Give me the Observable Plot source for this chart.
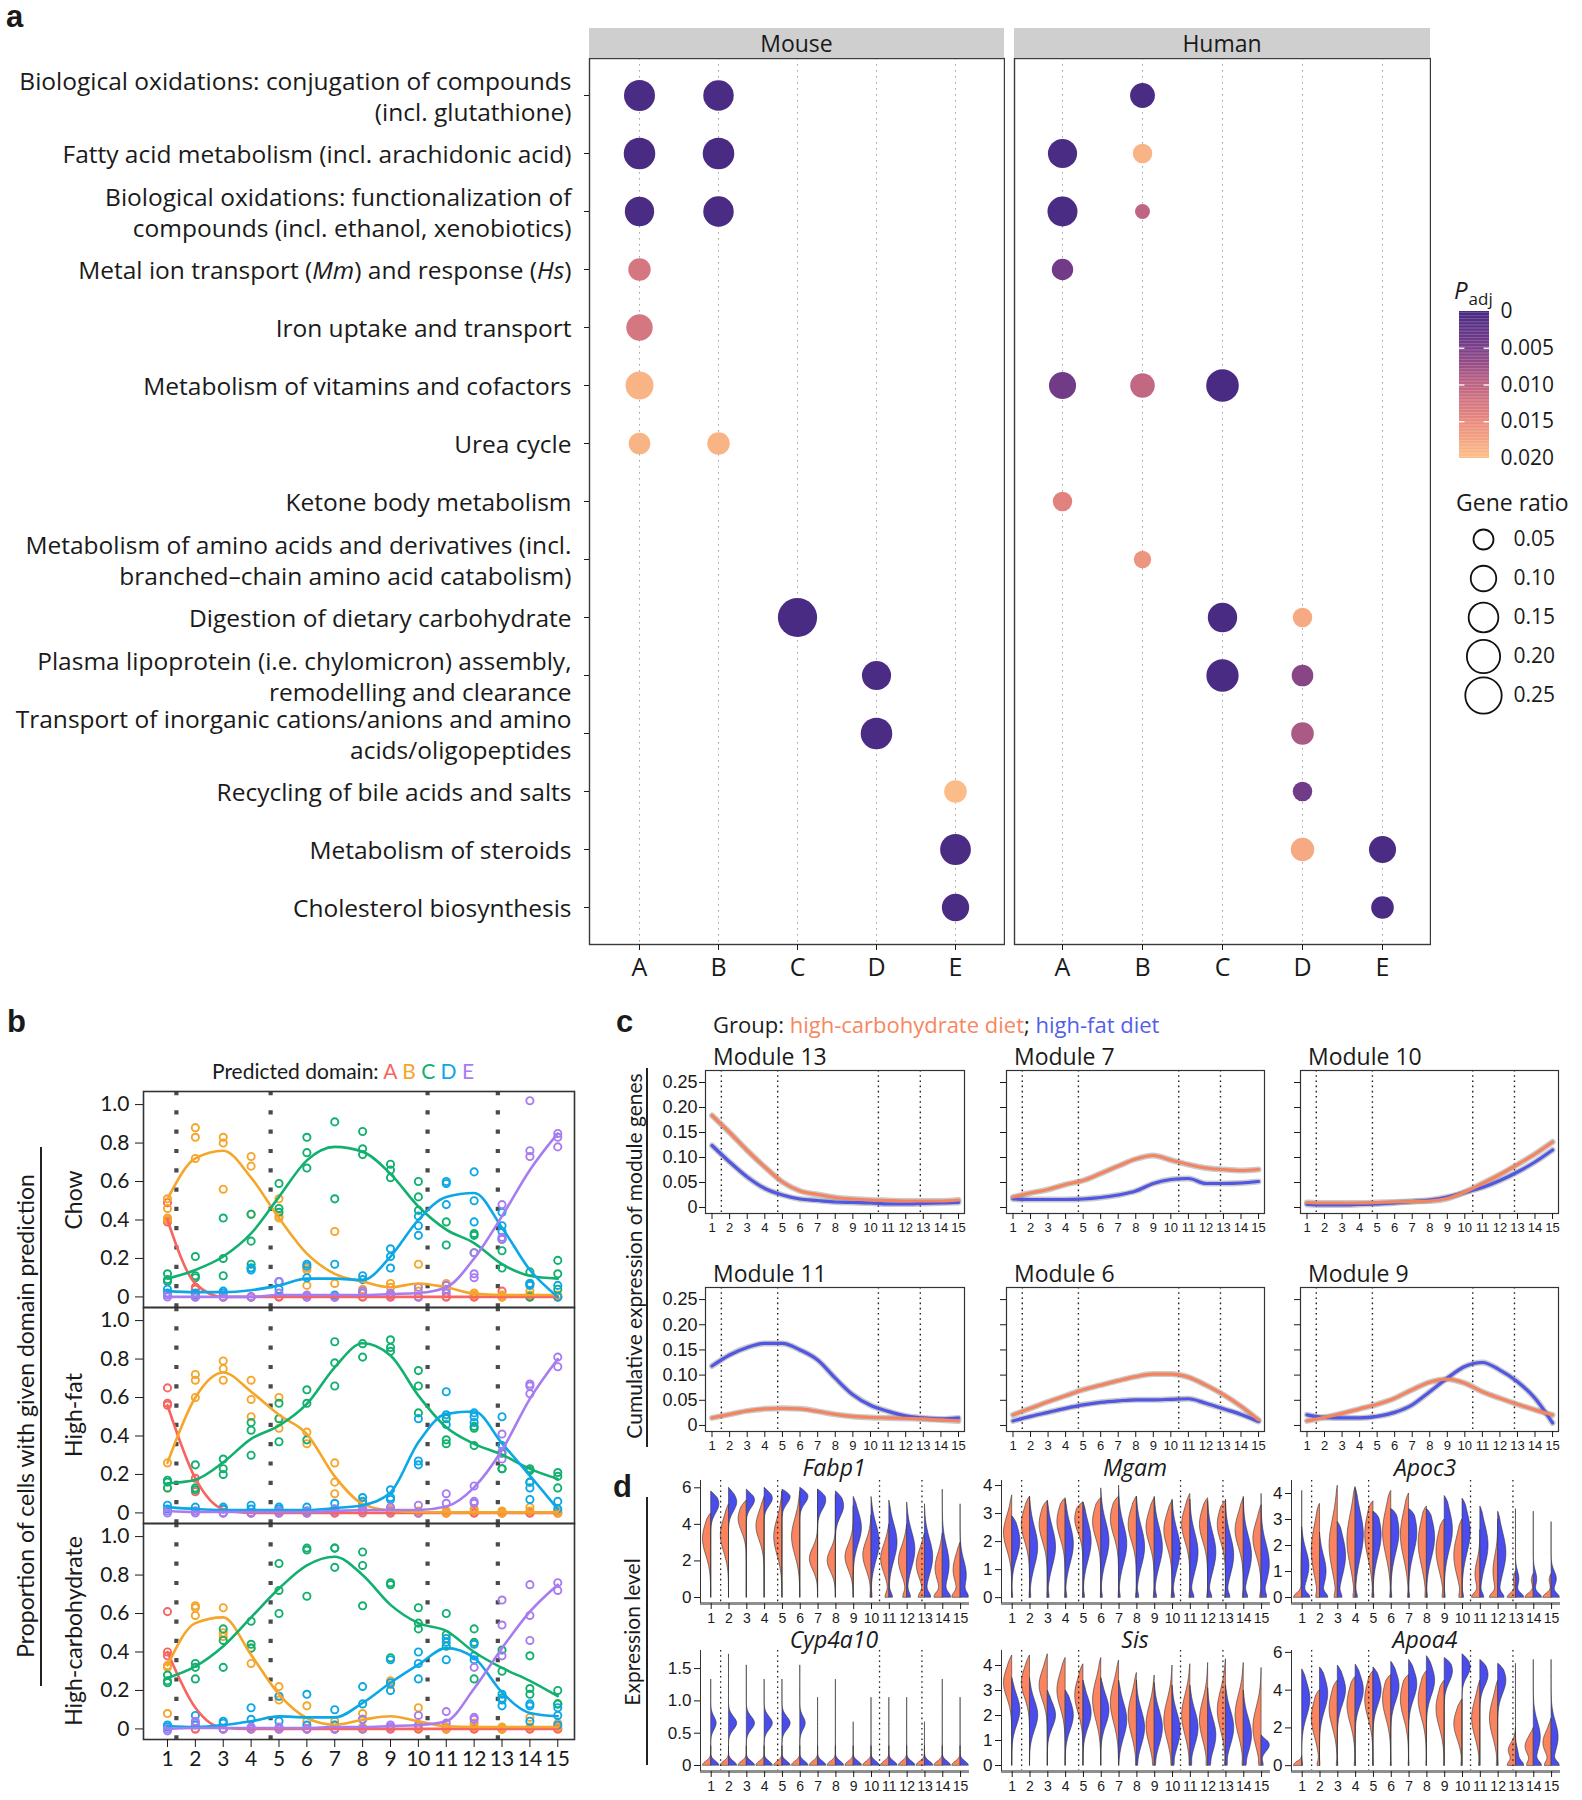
<!DOCTYPE html>
<html><head><meta charset="utf-8">
<script src="https://cdn.jsdelivr.net/npm/d3@7"></script>
<script src="https://cdn.jsdelivr.net/npm/@observablehq/plot@0.6"></script>
<style>
body{margin:0;background:#fff;}
#root{position:relative;width:1582px;height:1800px;overflow:hidden;color:#1a1a1a;font-family:'Open Sans','Liberation Sans',Arial,sans-serif;}
</style></head><body><div id="root"></div>
<script>
// ---------------- DATA ----------------
const pathways = [
  "Biological oxidations: conjugation of compounds\n(incl. glutathione)",
  "Fatty acid metabolism (incl. arachidonic acid)",
  "Biological oxidations: functionalization of\ncompounds (incl. ethanol, xenobiotics)",
  "Metal ion transport (Mm) and response (Hs)",
  "Iron uptake and transport",
  "Metabolism of vitamins and cofactors",
  "Urea cycle",
  "Ketone body metabolism",
  "Metabolism of amino acids and derivatives (incl.\nbranched\u2013chain amino acid catabolism)",
  "Digestion of dietary carbohydrate",
  "Plasma lipoprotein (i.e. chylomicron) assembly,\nremodelling and clearance",
  "Transport of inorganic cations/anions and amino\nacids/oligopeptides",
  "Recycling of bile acids and salts",
  "Metabolism of steroids",
  "Cholesterol biosynthesis"
];
const domainsAE = ["A","B","C","D","E"];
const mouseRow   = [0,0,1,1,2,2,3,4,5,6,6,9,10,11,12,13,14];
const mouseDom   = ["A","B","A","B","A","B","A","A","A","A","B","C","D","D","E","E","E"];
const mouseRatio = [0.167,0.16,0.175,0.175,0.146,0.16,0.07,0.11,0.128,0.063,0.07,0.30,0.143,0.175,0.072,0.164,0.12];
const mousePadj  = [0.0004,0.0004,0.0003,0.0003,0.0004,0.0004,0.0125,0.0125,0.019,0.019,0.019,0.0002,0.0004,0.0004,0.0197,0.0004,0.0004];
const humanRow   = [0,1,1,2,2,3,5,5,5,7,8,9,9,10,10,11,12,13,13,14];
const humanDom   = ["B","A","B","A","B","A","A","B","C","A","B","C","D","C","D","D","D","D","E","E"];
const humanRatio = [0.093,0.143,0.046,0.154,0.019,0.061,0.118,0.09,0.19,0.046,0.032,0.146,0.046,0.185,0.063,0.072,0.046,0.08,0.118,0.072];
const humanPadj  = [0.0004,0.0004,0.019,0.0004,0.010,0.004,0.004,0.0105,0.0003,0.014,0.016,0.0003,0.018,0.0003,0.006,0.0085,0.004,0.018,0.0004,0.0004];
const padjStops  = [0,0.005,0.01,0.015,0.02];
const padjColors = ["#472a84","#7b3f88","#bf6483","#ea8a7e","#fdbf88"];
const legendRatios = [0.05,0.10,0.15,0.20,0.25];

const positions = [1,2,3,4,5,6,7,8,9,10,11,12,13,14,15];
const diets = ["Chow","High-fat","High-carbohydrate"];
const domainColors = ["#F8645F","#F6A52B","#12B06E","#0CA7E7","#A77CF1"];
const bDash = [1.32,4.7,10.33,12.85];

// smoothed proportions (panel b)
const chowLineA = [0.40,0.07,0.0,0.0,0.0,0.0,0.0,0.0,0.0,0.0,0.0,0.0,0.0,0.0,0.0];
const chowLineB = [0.51,0.72,0.76,0.62,0.41,0.225,0.12,0.08,0.05,0.07,0.05,0.017,0.01,0.01,0.01];
const chowLineC = [0.095,0.14,0.21,0.33,0.52,0.71,0.78,0.755,0.64,0.47,0.35,0.28,0.17,0.11,0.095];
const chowLineD = [0.03,0.025,0.025,0.035,0.06,0.095,0.095,0.087,0.21,0.40,0.52,0.54,0.36,0.14,0.0];
const chowLineE = [0.0,0.0,0.0,0.0,0.01,0.01,0.01,0.01,0.015,0.02,0.05,0.2,0.42,0.66,0.85];
const hfLineA = [0.56,0.18,0.02,0,0,0,0,0,0,0,0,0,0,0,0];
const hfLineB = [0.26,0.60,0.73,0.63,0.51,0.41,0.19,0.047,0.012,0.005,0.003,0.003,0.003,0.003,0.003];
const hfLineC = [0.154,0.173,0.263,0.385,0.454,0.567,0.757,0.882,0.818,0.61,0.445,0.359,0.303,0.229,0.177];
const hfLineD = [0.03,0.02,0.015,0.015,0.015,0.015,0.025,0.04,0.107,0.367,0.515,0.527,0.362,0.194,0.02];
const hfLineE = [0.01,0.005,0.005,0.005,0.005,0.005,0.01,0.015,0.015,0.015,0.033,0.133,0.327,0.593,0.80];
const hcLineA = [0.40,0.11,0.005,0,0,0,0,0,0,0,0,0,0,0,0];
const hcLineB = [0.33,0.55,0.58,0.385,0.18,0.057,0.022,0.048,0.066,0.04,0.014,0.01,0.01,0.01,0.01];
const hcLineC = [0.265,0.325,0.43,0.58,0.73,0.85,0.895,0.80,0.645,0.55,0.51,0.40,0.317,0.25,0.17];
const hcLineD = [0.015,0.01,0.02,0.04,0.065,0.06,0.06,0.135,0.24,0.334,0.42,0.37,0.19,0.083,0.066];
const hcLineE = [0.0,0.005,0.005,0.005,0.005,0.005,0.01,0.01,0.015,0.02,0.04,0.21,0.42,0.61,0.75];

// replicate proportions (panel b)
const chowPtsA = [[0.49,0.39,0.40],[0.05,0.04,0.0],[0,0],[0,0],[0,0],[0,0],[0,0],[0,0],[0,0],[0,0],[0,0],[0,0],[0.03,0],[0,0],[0,0]];
const chowPtsB = [[0.51,0.46,0.41,0.40],[0.88,0.83,0.72],[0.83,0.80,0.56],[0.73,0.68,0.43],[0.51,0.42,0.41],[0.15,0.06,0.14],[0.34,0.07],[0.03,0.04],[0.07,0.05],[0.17,0.03],[0.06,0.07],[0.02,0.01],[0.0,0.01],[0.03,0.01],[0.01,0.0]];
const chowPtsC = [[0.12,0.09,0.08],[0.21,0.11,0.10],[0.41,0.20,0.11],[0.43,0.29,0.17,0.15],[0.59,0.46,0.44],[0.83,0.75,0.67],[0.91,0.51],[0.86,0.77,0.74],[0.69,0.66,0.62],[0.60,0.52,0.45],[0.39,0.27],[0.33,0.32,0.23],[0.30,0.24,0.15],[0.13,0.07,0.0],[0.19,0.12,0.04]];
const chowPtsD = [[0.04,0.02],[0.02,0.01],[0.02,0.03],[0.15,0.14],[0.08,0.04],[0.17,0.16,0.10],[0.17,0.01],[0.11,0.09],[0.25,0.21,0.15],[0.42,0.37,0.32],[0.60,0.59,0.48],[0.65,0.50,0.39],[0.44,0.37,0.34],[0.07,0.06],[0.06,0.0]];
const chowPtsE = [[0.01,0.0],[0.0,0.0],[0.0,0.0],[0.0,0.0],[0.08,0.02],[0.01,0.0],[0.0,0.0],[0.03,0.02],[0.02,0.01],[0.05,0.0],[0.06,0.04,0.02],[0.23,0.12,0.10],[0.48,0.31,0.30],[1.02,0.76,0.73],[0.85,0.83,0.78]];
const hfPtsA = [[0.65,0.56,0.57],[0.18,0.11],[0.02,0.0],[0,0],[0,0],[0,0],[0,0],[0.01,0],[0,0],[0,0],[0,0],[0,0],[0,0],[0,0],[0,0]];
const hfPtsB = [[0.26,0.13],[0.72,0.69,0.60],[0.79,0.75,0.69],[0.69,0.59,0.50],[0.60,0.44,0.49],[0.42,0.36],[0.26,0.16,0.10],[0.05,0.02],[0.02,0.01],[0.0,0.01],[0.0,0.01],[0.02,0.01],[0.0,0.01],[0.03,0.01],[0.0,0.01]];
const hfPtsC = [[0.17,0.16,0.13],[0.25,0.13,0.12],[0.28,0.23,0.20],[0.47,0.43,0.30],[0.57,0.49,0.37],[0.64,0.57,0.38],[0.89,0.78,0.66],[0.88,0.81],[0.90,0.86,0.84],[0.74,0.66,0.52],[0.49,0.38,0.36],[0.45,0.44,0.35],[0.31,0.23,0.23],[0.23,0.22,0.16],[0.21,0.19,0.13]];
const hfPtsD = [[0.04,0.02],[0.03,0.01],[0.03,0.02],[0.04,0.02],[0.03,0.02],[0.03,0.01],[0.05,0.02],[0.08,0.06],[0.12,0.08,0.07],[0.49,0.27,0.25],[0.63,0.51,0.46],[0.52,0.50,0.47],[0.50,0.35],[0.16,0.13,0.07],[0.06,0.02]];
const hfPtsE = [[0.01,0.0],[0.01,0.0],[0.0,0.0],[0.0,0.0],[0.01,0.0],[0.01,0.0],[0.02,0.01],[0.02,0.01],[0.03,0.01],[0.04,0.0],[0.10,0.05],[0.14,0.06,0.05],[0.41,0.32,0.28],[0.67,0.66,0.62],[0.81,0.76]];
const hcPtsA = [[0.61,0.40,0.38],[0.0,0.0],[0,0],[0,0],[0,0],[0,0],[0,0],[0,0],[0,0],[0,0],[0,0],[0,0],[0,0],[0,0],[0,0]];
const hcPtsB = [[0.33,0.32,0.08],[0.64,0.63,0.59],[0.63,0.50,0.48],[0.42,0.34],[0.22,0.17,0.15],[0.12,0.04],[0.04,0.02],[0.08,0.01],[0.25,0.23],[0.11,0.01],[0.01,0.0],[0.03,0.01],[0.01,0.0],[0.06,0.01],[0.03,0.01]];
const hcPtsC = [[0.28,0.25,0.24],[0.34,0.32,0.26],[0.52,0.46,0.32],[0.56,0.44,0.42],[0.86,0.72,0.60],[0.94,0.93,0.69],[0.94,0.94,0.84],[0.92,0.85,0.64],[0.76,0.75,0.37],[0.63,0.55,0.52],[0.60,0.49,0.43],[0.52,0.45,0.26],[0.41,0.30,0.16],[0.38,0.21,0.18],[0.20,0.13,0.13]];
const hcPtsD = [[0.02,0.01],[0.07,0.02],[0.04,0.03],[0.11,0.05],[0.17,0.04],[0.18,0.02],[0.10,0.02],[0.22,0.13,0.05],[0.36,0.24,0.20],[0.40,0.34,0.26],[0.47,0.45,0.36],[0.44,0.38,0.36],[0.18,0.15,0.12],[0.13,0.12,0.04],[0.11,0.07,0.02]];
const hcPtsE = [[-0.01,0.0],[0.03,0.04],[0.0,0.0],[0.01,0.0],[0.01,0.0],[0.0,0.0],[0.0,0.0],[0.05,0.0],[0.02,0.01],[0.07,0.02],[0.09,0.03],[0.32,0.06,0.05],[0.67,0.54,0.38],[0.75,0.59,0.46],[0.76,0.72]];

// panel c: cumulative module expression
const cDash = [1.53,4.73,10.45,12.83];
const cYTicks = [0,0.05,0.10,0.15,0.20,0.25];
const m13Carb = [0.184,0.15,0.114,0.081,0.051,0.033,0.026,0.02,0.017,0.015,0.014,0.013,0.013,0.013,0.015];
const m13Fat  = [0.124,0.091,0.061,0.038,0.025,0.017,0.014,0.011,0.01,0.009,0.007,0.007,0.008,0.009,0.01];
const m7Carb  = [0.021,0.029,0.036,0.046,0.054,0.068,0.083,0.097,0.104,0.095,0.086,0.079,0.076,0.074,0.076];
const m7Fat   = [0.017,0.016,0.016,0.016,0.017,0.02,0.025,0.033,0.048,0.056,0.058,0.048,0.048,0.049,0.052];
const m10Carb = [0.01,0.009,0.009,0.009,0.01,0.011,0.012,0.013,0.018,0.031,0.048,0.066,0.086,0.107,0.131];
const m10Fat  = [0.006,0.005,0.005,0.006,0.007,0.009,0.012,0.015,0.021,0.03,0.04,0.054,0.071,0.091,0.115];
const m11Carb = [0.015,0.022,0.029,0.033,0.034,0.033,0.028,0.022,0.018,0.016,0.015,0.014,0.013,0.011,0.009];
const m11Fat  = [0.118,0.14,0.155,0.163,0.163,0.15,0.13,0.094,0.061,0.04,0.028,0.019,0.015,0.013,0.015];
const m6Carb  = [0.021,0.034,0.047,0.059,0.071,0.08,0.089,0.097,0.102,0.102,0.096,0.08,0.061,0.038,0.011];
const m6Fat   = [0.009,0.018,0.026,0.034,0.041,0.046,0.049,0.051,0.051,0.052,0.053,0.044,0.033,0.022,0.008];
const m9Carb  = [0.009,0.016,0.024,0.033,0.042,0.054,0.071,0.086,0.092,0.084,0.067,0.054,0.042,0.031,0.021];
const m9Fat   = [0.021,0.016,0.015,0.015,0.018,0.026,0.041,0.067,0.094,0.117,0.125,0.11,0.087,0.054,0.005];

// panel d: violin summaries per zone, [max, mode, spread, zero fraction]
const fabp1Carb = [[4.6,3.2,0.9,0],[5.1,3.4,0.9,0],[5.3,4.3,0.7,0],[5.5,3.9,0.8,0],[5.8,3.3,1.0,0],[5.8,3.3,1.0,0],[5.9,2.1,0.6,0],[5.6,2.0,0.6,0],[5.0,2.2,0.7,0],[4.5,2.3,0.8,0.1],[4.0,2.1,0.8,0.3],[4.0,2.0,0.8,0.3],[3.5,1.8,0.8,0.4],[3.5,1.6,0.8,0.5],[3.0,1.5,0.8,0.5]];
const fabp1Fat  = [[5.8,5.1,0.5,0],[6.0,5.2,0.5,0],[5.9,5.3,0.4,0],[6.0,5.4,0.4,0],[5.9,5.5,0.4,0],[6.0,5.5,0.4,0],[5.9,5.3,0.5,0],[5.8,5.0,0.6,0],[5.5,3.8,0.9,0],[5.5,3.0,1.0,0.1],[5.3,3.0,1.0,0.3],[5.2,2.6,1.0,0.3],[5.1,2.2,1.0,0.4],[5.9,1.8,1.0,0.5],[5.1,1.2,0.8,0.5]];
const mgamCarb  = [[3.65,2.3,0.6,0],[3.6,2.6,0.6,0.05],[3.45,2.6,0.6,0.05],[3.55,2.7,0.6,0.05],[3.4,2.8,0.5,0.05],[3.55,2.7,0.6,0.05],[3.6,2.8,0.6,0.05],[3.6,2.6,0.6,0.1],[3.55,2.5,0.6,0.1],[3.45,2.4,0.6,0.1],[3.7,2.6,0.6,0.1],[3.55,2.6,0.6,0.1],[3.45,2.6,0.6,0.1],[3.55,2.4,0.6,0.1],[3.3,2.1,0.6,0.15]];
const mgamFat   = [[2.9,2.0,0.6,0.1],[3.6,1.8,0.7,0.1],[3.45,1.8,0.7,0.15],[3.5,1.9,0.7,0.15],[3.4,2.0,0.7,0.15],[3.9,2.0,0.7,0.15],[4.0,1.9,0.7,0.15],[3.6,1.8,0.7,0.2],[3.6,1.8,0.7,0.2],[3.5,1.7,0.7,0.2],[3.5,1.6,0.7,0.3],[3.45,1.6,0.7,0.3],[3.5,1.5,0.7,0.3],[3.6,1.5,0.7,0.3],[3.7,1.2,0.7,0.3]];
const apoc3Carb = [[4.1,1.0,0.8,0.9],[3.6,1.8,1.0,0.2],[4.3,2.0,1.0,0.2],[4.25,2.2,1.0,0.15],[3.7,2.4,0.9,0.1],[4.1,2.5,0.9,0.1],[4.0,2.4,0.9,0.1],[3.5,2.1,0.9,0.1],[3.0,1.8,0.8,0.15],[3.0,1.6,0.8,0.2],[2.6,0.9,0.5,0.6],[3.0,1.0,0.6,0.6],[1.0,0.7,0.3,0.8],[0.9,0.7,0.2,0.8],[0.9,0.7,0.2,0.8]];
const apoc3Fat  = [[2.7,1.2,0.6,0.5],[2.5,1.0,0.6,0.5],[2.9,1.6,0.8,0.3],[4.2,2.4,0.9,0.2],[3.3,2.4,0.8,0.1],[3.4,2.5,0.8,0.1],[3.4,2.5,0.8,0.1],[3.4,2.3,0.8,0.1],[3.9,2.6,0.8,0.1],[3.8,2.5,0.8,0.15],[3.5,2.0,0.8,0.3],[3.3,1.7,0.8,0.4],[3.4,0.7,0.3,0.7],[3.3,0.7,0.3,0.7],[2.9,0.7,0.3,0.6]];
const cypCarb   = [[0.3,0.1,0.1,1],[0.3,0.1,0.1,1],[0.3,0.1,0.1,1],[0.3,0.1,0.1,1],[0.3,0.1,0.1,1],[0.3,0.1,0.1,1],[0.3,0.1,0.1,1],[0.3,0.1,0.1,1],[0.3,0.1,0.1,1],[0.3,0.1,0.1,1],[0.3,0.1,0.1,1],[0.3,0.1,0.1,1],[0.3,0.1,0.1,1],[0.3,0.1,0.1,1],[0.3,0.1,0.1,1]];
const cypFat    = [[1.33,0.65,0.1,0.6],[1.72,0.65,0.1,0.5],[1.55,0.65,0.1,0.5],[1.33,0.65,0.1,0.5],[1.33,0.65,0.1,0.5],[1.55,0.65,0.1,0.6],[1.05,0.65,0.05,1],[1.33,0.65,0.05,1],[0.67,0.65,0.05,1],[1.05,0.65,0.05,1],[1.05,0.65,0.05,1],[1.05,0.65,0.05,1],[0.67,0.65,0.05,1],[1.33,0.65,0.05,1],[1.05,0.65,0.05,1]];
const sisCarb   = [[4.4,3.3,0.6,0],[4.4,3.3,0.6,0],[4.45,3.2,0.6,0],[4.3,3.0,0.7,0],[4.05,2.8,0.7,0],[4.3,2.6,0.8,0],[4.2,2.5,0.8,0],[3.7,2.0,0.8,0.05],[3.6,1.6,0.8,0.05],[4.0,1.8,0.8,0.05],[4.05,2.0,0.8,0.05],[4.1,1.8,0.8,0.1],[4.25,2.2,0.8,0.1],[4.1,2.0,0.8,0.1],[3.9,1.5,0.8,0.1]];
const sisFat    = [[3.5,2.2,0.6,0],[3.5,2.0,0.6,0],[3.0,2.0,0.5,0],[3.0,2.0,0.6,0],[3.4,2.1,0.6,0],[3.5,2.2,0.6,0],[3.4,1.8,0.7,0],[3.4,1.5,0.7,0.05],[3.3,1.5,0.7,0.05],[3.2,1.4,0.7,0.1],[3.2,1.5,0.7,0.1],[3.1,1.2,0.7,0.1],[3.2,1.5,0.7,0.1],[3.0,1.2,0.7,0.1],[1.2,0.8,0.25,0.2]];
const apoa4Carb = [[0.5,0.1,0.2,1],[4.0,2.5,1.0,0.2],[4.5,3.0,1.0,0.1],[4.7,3.2,1.0,0.1],[5.0,3.5,1.0,0.05],[4.8,3.5,1.0,0.05],[4.8,3.5,1.0,0.05],[5.0,3.5,1.0,0.05],[4.5,3.0,1.0,0.05],[3.5,2.2,0.8,0.1],[4.5,2.5,1.0,0.1],[4.5,2.5,1.0,0.1],[2.0,0.8,0.4,0.5],[2.0,1.0,0.5,0.4],[2.5,1.2,0.6,0.4]];
const apoa4Fat  = [[5.1,3.5,0.9,0.1],[5.2,3.8,0.9,0.05],[5.3,4.0,0.8,0.05],[5.35,4.0,0.8,0.05],[5.2,4.0,0.8,0.05],[5.5,4.2,0.8,0.05],[5.6,4.3,0.8,0.05],[5.8,4.5,0.8,0],[5.7,5.0,0.6,0],[5.9,5.2,0.5,0],[5.6,4.8,0.6,0],[5.4,4.5,0.7,0.05],[5.4,0.5,0.4,0.7],[5.6,1.5,0.8,0.5],[5.6,1.5,0.8,0.5]];

// ---------------- HELPERS ----------------
const FA = "'Open Sans','Liberation Sans',Arial,sans-serif";
const FB = "Lato,'Open Sans',sans-serif";
const FN = "'Liberation Sans Narrow','Liberation Sans',Arial,sans-serif";
const root = document.getElementById("root");
function put(node, left, top){ node.style.position="absolute"; node.style.left=left+"px"; node.style.top=top+"px"; root.appendChild(node); return node; }
function html(s, left, top, css){ const d=document.createElement("div"); d.innerHTML=s; d.style.cssText="white-space:nowrap;line-height:1;"+(css||""); return put(d,left,top); }
function vtext(s, cx, cy, css){ const d=document.createElement("div"); d.innerHTML=s; d.style.cssText="white-space:nowrap;line-height:1;transform:translate(-50%,-50%) rotate(-90deg);"+(css||""); return put(d,cx,cy); }
function vline(x, y1, y2){ const d=document.createElement("div"); d.style.cssText=`width:2px;height:${y2-y1}px;background:#222;`; return put(d,x,y1); }
const cOpts = {type:"linear", domain: padjStops, range: padjColors, clamp:true};
const rOpts = {type:"sqrt", domain:[0.05,0.25], range:[10,18.2]};

// ---------------- PANEL A ----------------
html("a", 6, 1, "font-family:'Liberation Sans',Arial;font-weight:bold;font-size:31px;");
function dotPanel(rows, doms, ratios, padjs, showY, width, ml){
  const data = rows.map((r,i)=>({path: pathways[r], dom: doms[i], ratio: ratios[i], padj: padjs[i]}));
  return Plot.plot({
    width, height: 1+886+50, marginTop:1, marginBottom:50, marginLeft:ml, marginRight:1,
    style:{fontFamily:FA, color:"#1a1a1a"},
    x:{type:"point", domain: domainsAE, padding:0.6, label:null},
    y:{type:"point", domain: pathways, padding:0.6, label:null, axis: showY ? undefined : null},
    r: rOpts, color: cOpts,
    marks:[
      Plot.ruleX(domainsAE, {x:d=>d, stroke:"#a5a5a5", strokeDasharray:"1.6,4.4"}),
      Plot.frame({stroke:"#3a3a3a", strokeWidth:1.4}),
      Plot.dot(data, {x:"dom", y:"path", r:"ratio", fill:"padj"}),
      Plot.axisX({tickSize:6, tickPadding:8, fontSize:25}),
      showY ? Plot.axisY({tickSize:5, tickPadding:13, fontSize:24.5, lineHeight:1.27}) : null
    ]
  });
}
const mouseSvg = put(dotPanel(mouseRow, mouseDom, mouseRatio, mousePadj, true, 1005, 589), 0, 57);
mouseSvg.querySelectorAll("text").forEach(t=>{ if (t.textContent.includes("(Mm)")) t.innerHTML = 'Metal ion transport (<tspan font-style="italic">Mm</tspan>) and response (<tspan font-style="italic">Hs</tspan>)'; });
put(dotPanel(humanRow, humanDom, humanRatio, humanPadj, false, 418, 1), 1013, 57);
html("Mouse", 589, 28, "width:415px;height:30px;line-height:30px;text-align:center;background:#cfcfcf;font-size:23px;");
html("Human", 1014, 28, "width:416px;height:30px;line-height:30px;text-align:center;background:#cfcfcf;font-size:23px;");

// legends
html('<span style="font-style:italic;font-size:24px">P</span><span style="font-size:17px;position:relative;top:6px;left:1px">adj</span>', 1454, 278, "");
const rampVals = d3.range(0, 0.02, 0.0002);
put(Plot.plot({
  width:120, height:175, marginTop:14, marginBottom:14, marginLeft:0, marginRight:90,
  style:{fontFamily:FA, color:"#1a1a1a"},
  x:{domain:[0,1], axis:null}, y:{domain:[0,0.02], reverse:true}, color:cOpts,
  marks:[
    Plot.rect(rampVals, {x1:0, x2:1, y1:d=>d, y2:d=>Math.min(0.02,d+0.00022), fill:d=>d}),
    Plot.ruleY([0.005,0.01,0.015], {x1:0, x2:0.18, stroke:"white", strokeWidth:1.3}),
    Plot.ruleY([0.005,0.01,0.015], {x1:0.82, x2:1, stroke:"white", strokeWidth:1.3}),
    Plot.axisY({anchor:"right", ticks:padjStops, tickFormat:d=>d===0?"0":d.toFixed(3), tickSize:0, tickPadding:11, fontSize:21})
  ]
}), 1459, 297);
html("Gene ratio", 1456, 491, "font-size:23px;");
put(Plot.plot({
  width:120, height:196, margin:0,
  style:{fontFamily:FA, color:"#1a1a1a"},
  x:{domain:[0,1], axis:null}, y:{type:"point", domain:legendRatios, padding:0.5, axis:null}, r:rOpts,
  marks:[
    Plot.dot(legendRatios, {x:0.25, y:d=>d, r:d=>d, stroke:"#111", strokeWidth:1.8, fill:"none"}),
    Plot.text(legendRatios, {x:0.5, y:d=>d, text:d=>d.toFixed(2), textAnchor:"start", fontSize:21})
  ]
}), 1453, 519);

// ---------------- PANEL B ----------------
html("b", 7, 1006, "font-family:'Liberation Sans',Arial;font-weight:bold;font-size:31px;");
html('Predicted domain: <span style="color:'+domainColors[0]+'">A</span> <span style="color:'+domainColors[1]+'">B</span> <span style="color:'+domainColors[2]+'">C</span> <span style="color:'+domainColors[3]+'">D</span> <span style="color:'+domainColors[4]+'">E</span>', 212, 1060, "font-family:"+FB+";font-size:21px;");
const bLineSets = [["Chow","A",chowLineA],["Chow","B",chowLineB],["Chow","C",chowLineC],["Chow","D",chowLineD],["Chow","E",chowLineE],
  ["High-fat","A",hfLineA],["High-fat","B",hfLineB],["High-fat","C",hfLineC],["High-fat","D",hfLineD],["High-fat","E",hfLineE],
  ["High-carbohydrate","A",hcLineA],["High-carbohydrate","B",hcLineB],["High-carbohydrate","C",hcLineC],["High-carbohydrate","D",hcLineD],["High-carbohydrate","E",hcLineE]];
const bPtSets = [["Chow","A",chowPtsA],["Chow","B",chowPtsB],["Chow","C",chowPtsC],["Chow","D",chowPtsD],["Chow","E",chowPtsE],
  ["High-fat","A",hfPtsA],["High-fat","B",hfPtsB],["High-fat","C",hfPtsC],["High-fat","D",hfPtsD],["High-fat","E",hfPtsE],
  ["High-carbohydrate","A",hcPtsA],["High-carbohydrate","B",hcPtsB],["High-carbohydrate","C",hcPtsC],["High-carbohydrate","D",hcPtsD],["High-carbohydrate","E",hcPtsE]];
const bLines = bLineSets.flatMap(([diet,dom,arr])=>arr.map((v,i)=>({diet,dom,pos:positions[i],val:v})));
const bPts = bPtSets.flatMap(([diet,dom,arr])=>arr.flatMap((vals,i)=>vals.map(v=>({diet,dom,pos:positions[i],val:v}))));
put(Plot.plot({
  width:576, height:1+648+46, marginTop:1, marginBottom:46, marginLeft:143, marginRight:2,
  style:{fontFamily:FB, color:"#1a1a1a"},
  x:{domain:[0.14,15.6], label:null},
  y:{domain:[-0.055,1.068], label:null},
  fy:{domain:diets, padding:0, axis:null, label:null},
  color:{domain:domainsAE, range:domainColors},
  marks:[
    Plot.ruleX(bDash, {stroke:"#4a4a4a", strokeWidth:4.2, strokeDasharray:"4.2,15.1"}),
    Plot.dot(bPts, {x:"pos", y:"val", fy:"diet", stroke:"dom", r:3.6, strokeWidth:1.9}),
    Plot.line(bLines, {x:"pos", y:"val", z:"dom", fy:"diet", stroke:"dom", strokeWidth:2.6, curve:"monotone-x"}),
    Plot.frame({stroke:"#333", strokeWidth:1.6}),
    Plot.axisY({ticks:[0,0.2,0.4,0.6,0.8,1], tickFormat:d=>d===0?"0":d.toFixed(1), tickSize:8, tickPadding:6, fontSize:21}),
    Plot.axisX({ticks:positions, tickSize:8, tickPadding:4, fontSize:21})
  ]
}), 0, 1090);
vtext("Chow", 73, 1200, "font-family:"+FB+";font-size:23px;");
vtext("High-fat", 73, 1415, "font-family:"+FB+";font-size:23px;");
vtext("High-carbohydrate", 73, 1631, "font-family:"+FB+";font-size:23px;");
vtext("Proportion of cells with given domain prediction", 25, 1416, "font-family:"+FB+";font-size:23px;");
vline(40, 1147, 1686);

// ---------------- PANEL C ----------------
const carbC = "#F4845F", fatC = "#5257E3";
html("c", 616, 1006, "font-family:'Liberation Sans',Arial;font-weight:bold;font-size:31px;");
html('Group: <span style="color:#F7875F">high-carbohydrate diet</span>; <span style="color:#5560E8">high-fat diet</span>', 713, 1013, "font-size:22px;");
function modPlot(title, carb, fat, L, T, W, H, first){
  const cr = carb.map((v,i)=>({pos:positions[i], val:v}));
  const fr = fat.map((v,i)=>({pos:positions[i], val:v}));
  const ml = 52;
  put(Plot.plot({
    width: ml+W+2, height:8+H+30, marginTop:8, marginBottom:30, marginLeft:ml, marginRight:2,
    style:{fontFamily:FA, color:"#1a1a1a"},
    x:{domain:[0.63,15.34], label:null}, y:{domain:[-0.012,0.274], label:null},
    marks:[
      Plot.ruleX(cDash, {stroke:"#222", strokeWidth:1.4, strokeDasharray:"1.6,3.6"}),
      Plot.line(fr, {x:"pos", y:"val", stroke:"#8a8a8a", strokeWidth:6, strokeOpacity:0.45, curve:"monotone-x"}),
      Plot.line(cr, {x:"pos", y:"val", stroke:"#8a8a8a", strokeWidth:6, strokeOpacity:0.45, curve:"monotone-x"}),
      Plot.line(fr, {x:"pos", y:"val", stroke:fatC, strokeWidth:3.2, curve:"monotone-x"}),
      Plot.line(cr, {x:"pos", y:"val", stroke:carbC, strokeWidth:3.2, curve:"monotone-x"}),
      Plot.frame({stroke:"#333", strokeWidth:1.2}),
      Plot.axisY({ticks:cYTicks, tickFormat: first ? (d=>d===0?"0":d.toFixed(2)) : (()=>""), tickSize:6, tickPadding:2, fontSize:18, fontFamily:FN}),
      Plot.axisX({ticks:positions, tickSize:6, tickPadding:3, fontSize:13, fontFamily:FN})
    ]
  }), L-ml, T-8);
  html(title, L+8, T-25, "font-size:23px;");
}
modPlot("Module 13", m13Carb, m13Fat, 705, 1070, 259, 143, true);
modPlot("Module 7",  m7Carb,  m7Fat, 1006, 1070, 258, 143, false);
modPlot("Module 10", m10Carb, m10Fat, 1300, 1070, 258, 143, false);
modPlot("Module 11", m11Carb, m11Fat, 705, 1287, 259, 144, true);
modPlot("Module 6",  m6Carb,  m6Fat, 1006, 1287, 258, 144, false);
modPlot("Module 9",  m9Carb,  m9Fat, 1300, 1287, 258, 144, false);
vtext("Cumulative expression of module genes", 633, 1256, "font-family:"+FB+";font-size:21px;");
vline(646, 1068, 1447);

// ---------------- PANEL D ----------------
const carbD = "#F9845F", fatD = "#4A4CEB";
html("d", 613, 1471, "font-family:'Liberation Sans',Arial;font-weight:bold;font-size:31px;");
function violinRows(params, side, zsd, span, prefix){
  const rows = [];
  params.forEach(([top, mode, sd, zero], i)=>{
    const pos = positions[i], N = 48, ys = [], ws = [];
    for (let k=0;k<=N;k++){
      const y = top*k/N;
      const g = (1-zero)*Math.exp(-0.5*((y-mode)/sd)**2) + zero*Math.exp(-0.5*(y/zsd)**2);
      const tap = Math.sqrt(Math.min(1, Math.max(0, (top-y)/(0.05*span))));
      ys.push(y); ws.push(g*Math.max(tap, 0.02));
    }
    const m = Math.max(...ws);
    ys.forEach((y,k)=>rows.push({id:prefix+i, y, x1:pos, x2:pos + side*0.46*ws[k]/m}));
  });
  return rows;
}
function vlnPlot(gene, carb, fat, L, T, H, ydom, yticks, zsd, fmt, titleTop){
  const span = ydom[1]-ydom[0];
  const cr = violinRows(carb, -1, zsd, span, "c");
  const fr = violinRows(fat, 1, zsd, span, "f");
  const ml = 38;
  put(Plot.plot({
    width: ml+269+4, height:10+H+28, marginTop:10, marginBottom:28, marginLeft:ml, marginRight:4,
    style:{fontFamily:FA, color:"#1a1a1a"},
    x:{domain:[0.4,15.5], label:null}, y:{domain:ydom, label:null},
    marks:[
      Plot.areaX(cr, {y:"y", x1:"x1", x2:"x2", z:"id", fill:carbD, stroke:"#333", strokeWidth:0.6}),
      Plot.areaX(fr, {y:"y", x1:"x1", x2:"x2", z:"id", fill:fatD, stroke:"#333", strokeWidth:0.6}),
      Plot.ruleX(cDash, {stroke:"#222", strokeWidth:1.3, strokeDasharray:"1.6,3.6"}),
      Plot.ruleY([ydom[0]], {stroke:"#8f8f8f", strokeWidth:3}),
      Plot.ruleX([0.4], {stroke:"#333", strokeWidth:1}),
      Plot.axisY({ticks:yticks, tickFormat:fmt, tickSize:6, tickPadding:3, fontSize:17, fontFamily:FN}),
      Plot.axisX({ticks:positions, tickSize:6, tickPadding:4, fontSize:14, fontFamily:FN})
    ]
  }), L-ml, T-10);
  html(gene, L+134, titleTop, "font-size:23px;line-height:0.8;font-style:italic;transform:translateX(-50%);");
}
const intFmt = d=>String(d);
vlnPlot("Fabp1", fabp1Carb, fabp1Fat, 700, 1480, 123, [-0.33,6.4], [0,2,4,6], 0.25, intFmt, 1458);
vlnPlot("Mgam", mgamCarb, mgamFat, 1001, 1480, 123, [-0.21,4.18], [0,1,2,3,4], 0.15, intFmt, 1458);
vlnPlot("Apoc3", apoc3Carb, apoc3Fat, 1291, 1480, 123, [-0.23,4.5], [0,1,2,3,4], 0.15, intFmt, 1458);
vlnPlot("Cyp4a10", cypCarb, cypFat, 700, 1650, 121, [-0.093,1.78], [0,0.5,1,1.5], 0.06, d=>d===0?"0":d.toFixed(1), 1630);
vlnPlot("Sis", sisCarb, sisFat, 1001, 1650, 121, [-0.24,4.6], [0,1,2,3,4], 0.15, intFmt, 1630);
vlnPlot("Apoa4", apoa4Carb, apoa4Fat, 1291, 1650, 121, [-0.31,6.1], [0,2,4,6], 0.2, intFmt, 1630);
vtext("Expression level", 631, 1632, "font-family:"+FB+";font-size:21px;");
vline(646, 1497, 1765);
</script></body></html>
